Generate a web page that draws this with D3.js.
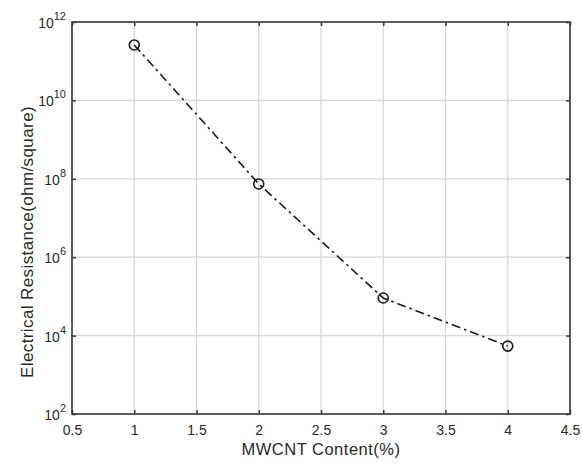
<!DOCTYPE html>
<html><head><meta charset="utf-8">
<script src="https://cdn.jsdelivr.net/npm/d3@7"></script>
<style>body{margin:0;background:#fff;} text{font-family:"Liberation Sans",Arial,sans-serif;}</style>
</head><body>
<svg id="c" width="582" height="463"></svg>
<script>
const content = [1, 2, 3, 4];
const resistance = [2.6e11, 7.4e7, 9.1e4, 5.4e3];
const xTicks = [0.5, 1, 1.5, 2, 2.5, 3, 3.5, 4, 4.5];
const yExponents = [2, 4, 6, 8, 10, 12];

const svg = d3.select("#c");
const L = 72, R = 570, T = 22, B = 414;
const x = d3.scaleLinear().domain([0.5, 4.5]).range([L, R]);
const y = d3.scaleLog().domain([1e2, 1e12]).range([B, T]);
const yTicks = yExponents.map(e => Math.pow(10, e));

const grid = svg.append("g");
xTicks.forEach(t => grid.append("line").attr("x1", x(t)).attr("x2", x(t)).attr("y1", T).attr("y2", B)
  .attr("stroke", "#d6d6d6").attr("stroke-width", 1.2));
yTicks.forEach(t => grid.append("line").attr("x1", L).attr("x2", R).attr("y1", y(t)).attr("y2", y(t))
  .attr("stroke", "#d6d6d6").attr("stroke-width", 1.2));

const axCol = "#3a3a3a";
svg.append("g").attr("transform", `translate(0,${B})`)
  .call(d3.axisBottom(x).tickValues(xTicks).tickSize(-4).tickPadding(11).tickFormat(d3.format("")))
  .call(g => { g.select(".domain").remove(); g.selectAll("line").attr("stroke", axCol).attr("stroke-width", 1.5);
    g.selectAll("text").attr("font-size", 14).attr("fill", "#2a2a2a"); });
svg.append("g").attr("transform", `translate(0,${T})`)
  .call(d3.axisTop(x).tickValues(xTicks).tickSize(-4).tickFormat(""))
  .call(g => { g.select(".domain").remove(); g.selectAll("line").attr("stroke", axCol).attr("stroke-width", 1.5); });
svg.append("g").attr("transform", `translate(${L},0)`)
  .call(d3.axisLeft(y).tickValues(yTicks).tickSize(-4).tickFormat(""))
  .call(g => { g.select(".domain").remove(); g.selectAll("line").attr("stroke", axCol).attr("stroke-width", 1.5); });
svg.append("g").attr("transform", `translate(${R},0)`)
  .call(d3.axisRight(y).tickValues(yTicks).tickSize(-4).tickFormat(""))
  .call(g => { g.select(".domain").remove(); g.selectAll("line").attr("stroke", axCol).attr("stroke-width", 1.5); });

yExponents.forEach((e, i) => {
  const t = svg.append("text").attr("x", L - 6).attr("y", y(yTicks[i]) + 6)
    .attr("text-anchor", "end").attr("font-size", 14).attr("fill", "#2a2a2a");
  t.append("tspan").text("10");
  t.append("tspan").attr("dy", -8).attr("font-size", 11).text(String(e));
});

svg.append("rect").attr("x", L).attr("y", T).attr("width", R - L).attr("height", B - T)
  .attr("fill", "none").attr("stroke", axCol).attr("stroke-width", 1.6);

const line = d3.line().x((d, i) => x(content[i])).y(d => y(d));
svg.append("path").datum(resistance).attr("d", line).attr("fill", "none")
  .attr("stroke", "#1a1a1a").attr("stroke-width", 1.6).attr("stroke-dasharray", "9,4,2.5,4");
svg.selectAll("circle.m").data(resistance).enter().append("circle")
  .attr("cx", (d, i) => x(content[i])).attr("cy", d => y(d)).attr("r", 5)
  .attr("fill", "none").attr("stroke", "#1a1a1a").attr("stroke-width", 1.6);

svg.append("text").attr("x", 321).attr("y", 455).attr("text-anchor", "middle")
  .attr("font-size", 16.5).attr("letter-spacing", 0.5).attr("fill", "#2a2a2a").text("MWCNT Content(%)");
svg.append("text").attr("transform", `translate(33,242) rotate(-90)`)
  .attr("text-anchor", "middle").attr("font-size", 17).attr("letter-spacing", 0.4).attr("fill", "#2a2a2a")
  .text("Electrical Resistance(ohm/square)");
</script>
</body></html>
